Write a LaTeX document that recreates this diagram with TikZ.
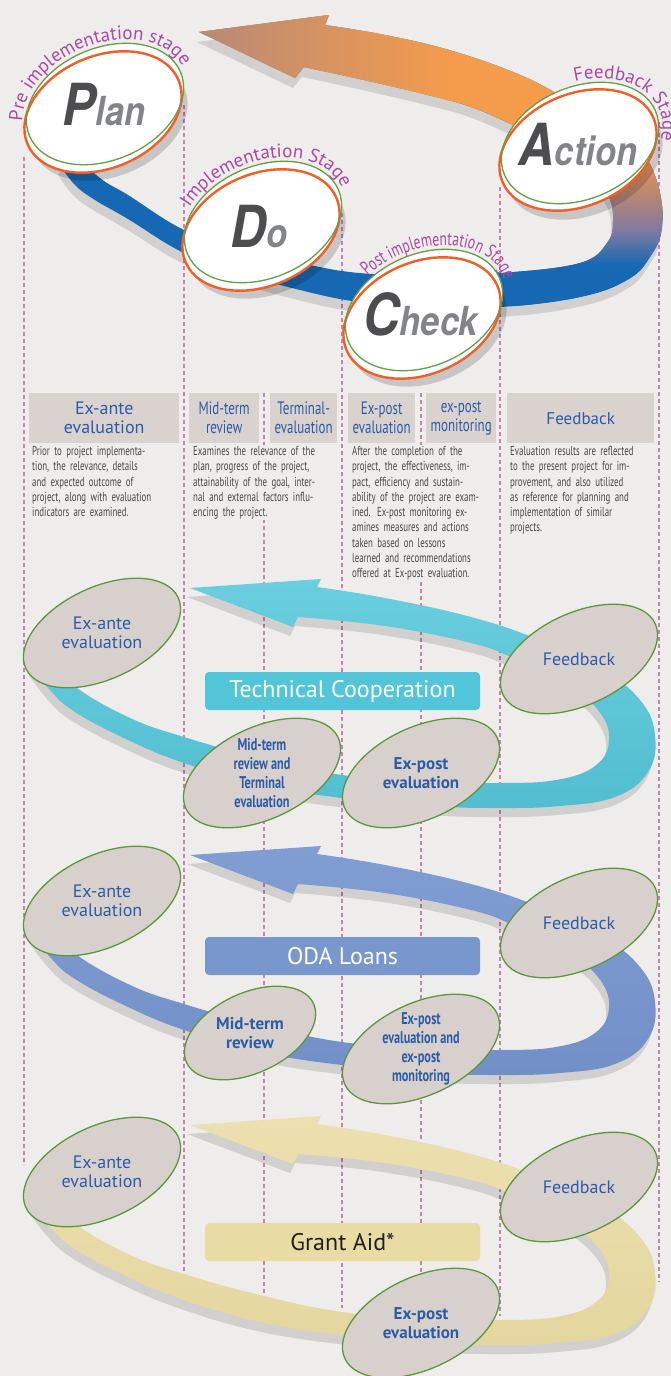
\documentclass[tikz,border=0pt]{standalone}
\usepackage{fontspec}
\usepackage{graphicx}
\setmainfont{PT Sans}
\newfontfamily\condfont{PT Sans}[FakeStretch=0.72]
\newfontfamily\descfont{PT Sans}[FakeStretch=0.68]
\newfontfamily\heavyfont{TeX Gyre Heros}
\usetikzlibrary{shapes.geometric,decorations.text}

\definecolor{bgc}{RGB}{238,237,235}
\definecolor{guidec}{RGB}{198,130,178}
\definecolor{boxgray}{RGB}{217,210,206}
\definecolor{labelblue}{RGB}{44,92,166}
\definecolor{descgray}{RGB}{72,72,72}
\definecolor{stagepurple}{RGB}{170,74,160}
\definecolor{rimorange}{RGB}{241,95,38}
\definecolor{rimgreen}{RGB}{100,158,70}
\definecolor{letterdark}{RGB}{77,77,79}
\definecolor{letterlight}{RGB}{130,132,135}
\definecolor{ringblue}{RGB}{22,104,178}
\definecolor{ringmauve}{RGB}{128,122,160}
\definecolor{ringbrown}{RGB}{192,136,108}
\definecolor{ringorange}{RGB}{244,155,76}
\definecolor{ringtip}{RGB}{184,138,118}
\definecolor{ovalfill}{RGB}{216,208,205}
\definecolor{ovalgreen}{RGB}{94,150,62}
\definecolor{tcband}{RGB}{82,190,208}
\definecolor{tcbandlight}{RGB}{106,206,222}
\definecolor{tcbox}{RGB}{82,198,216}
\definecolor{odaband}{RGB}{114,144,200}
\definecolor{odabandlight}{RGB}{128,158,210}
\definecolor{odabox}{RGB}{119,151,205}
\definecolor{gaband}{RGB}{228,214,158}
\definecolor{gabandlight}{RGB}{236,224,176}
\definecolor{gabox}{RGB}{233,219,164}
\definecolor{gatext}{RGB}{35,31,32}

\pgfdeclareverticalshading{pdcaring}{100bp}{color(0bp)=(ringblue); color(32bp)=(ringblue); color(38bp)=(ringmauve); color(45bp)=(ringbrown); color(52bp)=(ringorange); color(100bp)=(ringorange)}

\newcommand\stagefont{\fontsize{19}{19}\selectfont}
\newcommand\fl[1]{\makebox[139pt][s]{#1}\\}
\newcommand\pdcaword[2]{\scalebox{0.86}[1]{\heavyfont\bfseries\itshape\color{letterdark}\fontsize{58}{58}\selectfont #1\color{letterlight}\fontsize{40}{40}\selectfont #2}}

% PDCA ribbon: whole outline, its upper part (orange) and its head
\newcommand\topwhole{(199,32) -- (329,15) -- (325,25)
  -- plot[smooth, tension=.7] coordinates {(325,25) (385,35) (449,50) (513,72) (556,93) (605,122) (640,150) (658,185) (662,227) (650,257) (627,280) (580,297) (500,307) (420,306) (359,302) (300,290) (240,273) (184,253) (128,219) (95,200) (75,185) (60,165)}
  -- plot[smooth, tension=.7] coordinates {(70,150) (100,178) (128,195) (184,230) (240,250) (300,263) (359,273) (430,275) (500,273) (580,263) (607,243) (613,220) (608,195) (588,168) (555,145) (513,125) (471,107) (428,95) (364,80) (304,67)}
  -- (295,78) -- cycle}
\newcommand\toporange{(199,32) -- (329,15) -- (325,25)
  -- plot[smooth, tension=.7] coordinates {(325,25) (385,35) (449,50) (513,72) (556,93) (605,122) (640,150) (658,185) (662,227) (650,257) (627,280) (580,297) (515,306)}
  -- plot[smooth, tension=.7] coordinates {(515,272) (580,263) (607,243) (613,220) (608,195) (588,168) (555,145) (513,125) (471,107) (428,95) (364,80) (304,67)}
  -- (295,78) -- cycle}
\newcommand\tophead{(199,32) -- (329,15) -- (325,25)
  -- plot[smooth, tension=.7] coordinates {(325,25) (385,35) (449,50)}
  -- plot[smooth, tension=.7] coordinates {(449,101) (428,95) (364,80) (304,67)}
  -- (295,78) -- cycle}

% scheme ribbon (drawn three times)
\newcommand\lowloop{(190,588) -- (321,579) -- (317,587)
  -- plot[smooth, tension=.7] coordinates {(317,587) (385,598) (471,617) (540,640) (600,668) (640,700) (655,735) (648,772) (615,797) (560,806) (500,808) (430,806) (342,798) (260,785) (184,763) (128,740) (75,712) (50,690) (32,666)}
  -- plot[smooth, tension=.7] coordinates {(48,652) (72,684) (128,717) (184,737) (260,758) (342,775) (430,782) (500,783) (556,780) (595,766) (609,740) (598,710) (565,684) (513,658) (471,643) (385,626) (298,617)}
  -- (293,627) -- cycle}

\begin{document}
\begin{tikzpicture}[x=1pt, y=-1pt,
  guide/.style={draw=guidec, line width=1.1pt, dash pattern=on 4pt off 3pt},
  headbox/.style={fill=boxgray, anchor=north west, minimum height=50pt, inner sep=0pt, align=center, text=labelblue, font=\fontsize{18}{19}\selectfont},
  condhead/.style={headbox, font=\condfont\fontsize{18}{19}\selectfont},
  desc/.style={fill=bgc, anchor=north west, text width=139pt, inner sep=1pt, align=left, text=descgray, font=\descfont\fontsize{13}{15.3}\selectfont},
  ringshadow/.style={ellipse, fill=black, opacity=.16, minimum width=164pt, minimum height=112pt, inner sep=0pt, rotate=23},
  ringfill/.style={ellipse, fill=white, minimum width=164pt, minimum height=112pt, inner sep=0pt, rotate=23},
  ringrim/.style={ringfill, draw=rimorange, line width=2.4pt},
  ringline/.style={ellipse, draw=rimgreen, line width=1.3pt, minimum width=164pt, minimum height=112pt, inner sep=0pt, rotate=23},
  bigword/.style={anchor=base, inner sep=0pt},
  stagetext/.style={decorate, decoration={text along path, text={#1}, text color=stagepurple}},
  loopshadow/.style={fill=black, opacity=.12},
  oval/.style={ellipse, fill=ovalfill, draw=ovalgreen, line width=1.3pt, minimum width=168pt, minimum height=92pt, inner sep=0pt, rotate=25},
  ovaltext/.style={text=labelblue, align=center, inner sep=0pt, font=\fontsize{18}{19}\selectfont},
  ovalbold/.style={ovaltext, font=\bfseries\fontsize{17}{19}\selectfont},
  ovalcond/.style={ovaltext, font=\condfont\bfseries\fontsize{17}{19}\selectfont},
  aidbox/.style={rounded corners=4pt, minimum width=275pt, minimum height=38pt, inner sep=0pt, font=\fontsize{24}{24}\selectfont}
  ]
  \useasboundingbox (0,0) rectangle (671,1376);
  \fill[bgc] (0,0) rectangle (671,1376);

  % column guides
  \draw[guide] (24,157) -- (24,1165);
  \draw[guide] (184,105) -- (184,1280);
  \draw[guide] (264,393) -- (264,1300);
  \draw[guide] (342,213) -- (342,1308);
  \draw[guide] (421,393) -- (421,1275);
  \draw[guide] (500,187) -- (500,1316);
  \draw[guide] (659,133) -- (659,1282);

  % headings
  \node[headbox, minimum width=150pt] (antehead) at (29,393) {Ex-ante\\evaluation};
  \node[condhead, minimum width=70pt] (midhead) at (189,393) {Mid-term\\review};
  \node[condhead, minimum width=67pt] (termhead) at (270,393) {Terminal-\\evaluation};
  \node[condhead, minimum width=67pt] (posthead) at (348,393) {Ex-post\\evaluation};
  \node[condhead, minimum width=70pt] (monhead) at (426,393) {ex-post\\monitoring};
  \node[headbox, minimum width=147pt, font=\fontsize{17}{19}\selectfont] (feedhead) at (507,393) {Feedback};

  \node[desc] (antedesc) at (31,445) {\fl{Prior to project implementa-}\fl{tion, the relevance, details}\fl{and expected outcome of}\fl{project, along with evaluation}indicators are examined.};
  \node[desc] (middesc) at (192,445) {\fl{Examines the relevance of the}\fl{plan, progress of the project,}\fl{attainability of the goal, inter-}\fl{nal and external factors influ-}encing the project.};
  \node[desc] (postdesc) at (351,445) {\fl{After the completion of the}\fl{project, the effectiveness, im-}\fl{pact, efficiency and sustain-}\fl{ability of the project are exam-}\fl{ined. Ex-post monitoring ex-}\fl{amines measures and actions}\fl{taken based on lessons}\fl{learned and recommendations}offered at Ex-post evaluation.};
  \node[desc] (feeddesc) at (509,445) {\fl{Evaluation results are reflected}\fl{to the present project for im-}\fl{provement, and also utilized}\fl{as reference for planning and}\fl{implementation of similar}projects.};

  % PDCA cycle
  \fill[loopshadow, shift={(-2,10)}] \topwhole;
  \fill[ringblue] \topwhole;
  \shade[shading=pdcaring] \toporange;
  \shade[left color=ringtip, right color=ringorange] \tophead;

  \node[ringshadow] (planshadow) at (109,120) {};
  \node[ringfill] (planfill) at (105,104) {};
  \node[ringrim] (planrim) at (103,112) {};
  \node[ringline] (plan) at (105,104) {};
  \node[bigword] (planword) at (104,125) {\pdcaword{P}{lan}};

  \node[ringshadow] (doshadow) at (267,238) {};
  \node[ringfill] (dofill) at (263,222) {};
  \node[ringrim] (dorim) at (261,230) {};
  \node[ringline] (do) at (263,222) {};
  \node[bigword] (doword) at (259,247) {\pdcaword{D}{o}};

  \node[ringshadow] (checkshadow) at (428,326) {};
  \node[ringfill] (checkfill) at (424,310) {};
  \node[ringrim] (checkrim) at (422,318) {};
  \node[ringline] (check) at (424,310) {};
  \node[bigword] (checkword) at (421,335) {\pdcaword{C}{heck}};

  \node[ringshadow] (actionshadow) at (584,159) {};
  \node[ringfill] (actionfill) at (580,143) {};
  \node[ringrim] (actionrim) at (578,150) {};
  \node[ringline] (action) at (580,143) {};
  \node[bigword] (actionword) at (578,165) {\pdcaword{A}{ction}};

  % stage names
  \begin{scope}[shift={(105,104)}, rotate=23]
    \path[stagetext={|\stagefont|Pre implementation stage}] (196:86 and 60) arc[start angle=196, end angle=420, x radius=86, y radius=60];
  \end{scope}
  \begin{scope}[shift={(263,222)}, rotate=23]
    \path[stagetext={|\stagefont|Implementation Stage}] (224:86 and 60) arc[start angle=224, end angle=430, x radius=86, y radius=60];
  \end{scope}
  \begin{scope}[shift={(424,310)}, rotate=23]
    \path[stagetext={|\condfont\fontsize{19}{19}\selectfont|Post implementation Stage}] (243:86 and 60) arc[start angle=243, end angle=430, x radius=86, y radius=60];
  \end{scope}
  \begin{scope}[shift={(580,143)}, rotate=23]
    \path[stagetext={|\stagefont|Feedback Stage}] (283:86 and 60) arc[start angle=283, end angle=440, x radius=86, y radius=60];
  \end{scope}

  % Technical Cooperation
  \fill[loopshadow, shift={(-3,9)}] \lowloop;
  \shade[top color=tcbandlight, bottom color=tcband] \lowloop;
  \node[oval] (tcante) at (102,633) {};
  \node[ovaltext] (tcantetext) at (tcante.center) {Ex-ante\\evaluation};
  \node[oval] (tcfeed) at (579,659) {};
  \node[ovaltext] (tcfeedtext) at (tcfeed.center) {Feedback};
  \node[oval] (tcmid) at (262,773) {};
  \node[ovalcond] (tcmidtext) at (tcmid.center) {Mid-term\\review and\\Terminal\\evaluation};
  \node[oval] (tcpost) at (421,773) {};
  \node[ovalbold] (tcposttext) at (tcpost.center) {Ex-post\\evaluation};
  \node[aidbox, fill=tcbox, text=white] (tcname) at (342.5,691) {Technical Cooperation};

  % ODA Loans
  \fill[loopshadow, shift={(-3,276)}] \lowloop;
  \shade[top color=odabandlight, bottom color=odaband, shift={(0,267)}] \lowloop;
  \node[oval] (odaante) at (102,901) {};
  \node[ovaltext] (odaantetext) at (odaante.center) {Ex-ante\\evaluation};
  \node[oval] (odafeed) at (579,923) {};
  \node[ovaltext] (odafeedtext) at (odafeed.center) {Feedback};
  \node[oval, minimum width=140pt, minimum height=80pt] (odamid) at (250,1033) {};
  \node[ovalbold] (odamidtext) at (odamid.center) {Mid-term\\review};
  \node[oval] (odapost) at (421,1049) {};
  \node[ovalcond] (odaposttext) at (odapost.center) {Ex-post\\evaluation and\\ex-post\\monitoring};
  \node[aidbox, fill=odabox, text=white] (odaname) at (342.5,956) {ODA Loans};

  % Grant Aid
  \fill[loopshadow, shift={(-3,546)}] \lowloop;
  \shade[top color=gabandlight, bottom color=gaband, shift={(0,537)}] \lowloop;
  \node[oval] (gaante) at (102,1172) {};
  \node[ovaltext] (gaantetext) at (gaante.center) {Ex-ante\\evaluation};
  \node[oval] (gafeed) at (579,1187) {};
  \node[ovaltext] (gafeedtext) at (gafeed.center) {Feedback};
  \node[oval] (gapost) at (421,1323) {};
  \node[ovalbold] (gaposttext) at (gapost.center) {Ex-post\\evaluation};
  \node[aidbox, fill=gabox, text=gatext] (ganame) at (342.5,1242) {Grant Aid*};
\end{tikzpicture}
\end{document}
